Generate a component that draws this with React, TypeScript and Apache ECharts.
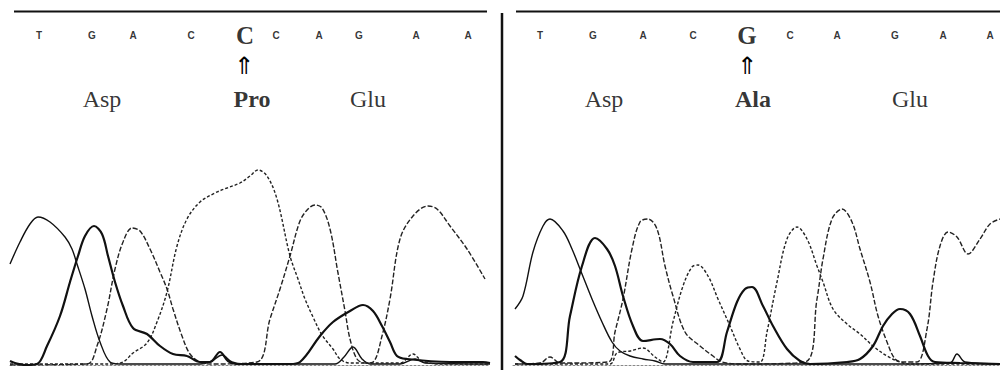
import React, { useEffect, useRef } from "react";
import * as echarts from "echarts";

// ---- Base calls, codons (positions along the scan axis) ----
const leftBases = ["T", "G", "A", "C", "C", "C", "A", "G", "A", "A"];
const leftBasePos = [39, 92, 133, 191, 245, 276, 319, 359, 416, 468];
const leftMutIndex = 4;
const rightBases = ["T", "G", "A", "C", "G", "C", "A", "G", "A", "A"];
const rightBasePos = [540, 593, 643, 693, 747, 790, 837, 895, 943, 990];
const rightMutIndex = 4;

const leftCodons = ["Asp", "Pro", "Glu"];
const leftCodonPos = [102, 252, 368];
const rightCodons = ["Asp", "Ala", "Glu"];
const rightCodonPos = [604, 753, 910];
const mutCodonIndex = 1;

const leftArrowPos = 244;
const rightArrowPos = 747;

// label rows (intensity units on the same scale)
const baseRowY = 330;
const arrowRowY = 299;
const codonRowY = 266;

// ---- Left chromatogram traces [scan position, intensity] ----
const leftT = [
  [10, 101], [20, 123], [30, 141], [38, 148], [50, 143], [65, 128], [72, 116], [77, 101],
  [85, 76], [92, 49], [100, 23], [110, 3], [120, 1], [200, 1], [212, 4], [222, 10], [232, 3],
  [245, 1], [335, 1], [344, 8], [353, 18], [362, 6], [370, 1], [400, 1], [415, 6], [425, 2], [490, 1],
];
const leftG = [
  [10, 4], [15, 2], [25, 0], [37, 1], [47, 19], [60, 49], [70, 83], [78, 109], [85, 129],
  [94, 139], [102, 131], [108, 109], [115, 83], [123, 59], [133, 37], [147, 31], [160, 19],
  [173, 11], [187, 9], [200, 3], [210, 3], [220, 13], [228, 4], [236, 1], [290, 1],
  [300, 3], [320, 29], [333, 43], [350, 54], [363, 60], [373, 54], [382, 39], [390, 23],
  [397, 9], [407, 6], [450, 3], [483, 3], [490, 2],
];
const leftA = [
  [10, 0], [87, 1], [97, 19], [107, 56], [115, 96], [123, 123], [132, 137], [140, 134],
  [150, 116], [160, 93], [167, 76], [173, 56], [182, 29], [190, 11], [200, 3], [210, 1],
  [257, 3], [270, 46], [280, 76], [290, 109], [300, 144], [308, 156], [315, 160], [322, 157],
  [330, 136], [338, 92], [345, 54], [350, 26], [357, 6], [365, 2], [373, 3], [382, 29],
  [390, 66], [400, 126], [413, 149], [428, 159], [437, 156], [450, 139], [467, 116],
  [485, 86],
];
const leftC = [
  [10, 1], [110, 1], [123, 3], [133, 12], [147, 22], [157, 43], [167, 73], [177, 119],
  [187, 146], [200, 163], [215, 172], [227, 177], [240, 182], [250, 189], [258, 195],
  [267, 189], [277, 166], [290, 109], [298, 86], [305, 66], [313, 48], [322, 30],
  [333, 16], [340, 6], [350, 2], [400, 2], [413, 11], [422, 4], [440, 1], [490, 1],
];

// ---- Right chromatogram traces ----
const rightT = [
  [515, 56], [523, 69], [533, 113], [543, 139], [550, 146], [563, 134], [572, 116],
  [582, 91], [592, 66], [602, 43], [612, 23], [620, 14], [630, 9], [643, 6], [655, 4],
  [665, 1], [900, 1], [950, 2], [957, 11], [965, 3], [1000, 1],
];
const rightG = [
  [515, 9], [520, 5], [527, 1], [560, 3], [570, 49], [582, 99], [595, 127], [607, 116],
  [615, 99], [623, 69], [633, 39], [643, 24], [660, 26], [670, 21], [680, 9], [693, 3],
  [717, 3], [727, 33], [737, 63], [745, 76], [752, 78], [763, 59], [773, 39], [787, 16],
  [800, 4], [810, 1], [847, 3], [860, 6], [873, 19], [883, 39], [892, 51], [900, 56],
  [910, 51], [920, 29], [928, 9], [935, 3], [960, 2], [1000, 1],
];
const rightA = [
  [515, 1], [540, 2], [550, 8], [560, 2], [608, 3], [615, 33], [623, 66], [632, 116],
  [640, 143], [648, 146], [657, 136], [665, 99], [673, 69], [685, 33], [700, 19], [713, 9],
  [722, 3], [740, 1], [805, 3], [817, 66], [823, 106], [832, 146], [842, 156], [852, 143],
  [860, 116], [870, 83], [878, 49], [887, 23], [895, 6], [903, 3], [917, 3], [927, 36],
  [933, 83], [940, 119], [948, 133], [957, 128], [968, 111], [980, 126], [990, 141],
  [1000, 146],
];
const rightC = [
  [515, 1], [610, 1], [617, 12], [630, 14], [643, 17], [655, 8], [663, 3], [673, 43],
  [683, 79], [692, 98], [698, 100], [708, 89], [718, 66], [730, 39], [740, 16], [748, 4],
  [760, 3], [767, 33], [777, 83], [787, 126], [797, 138], [807, 126], [817, 99], [823, 83],
  [833, 56], [847, 41], [860, 31], [873, 19], [887, 9], [900, 3], [910, 1], [1000, 1],
];

const INK = "#111111";

const channelStyles: Record<string, any> = {
  T: { color: INK, width: 1.4, type: "solid" },
  G: { color: INK, width: 2.2, type: "solid" },
  A: { color: "#222", width: 1.4, type: [5, 2] },
  C: { color: "#222", width: 1.4, type: [3, 2] },
};

function traceSeries(name: string, data: number[][], idx: number) {
  return {
    type: "line",
    name,
    xAxisIndex: idx,
    yAxisIndex: idx,
    data,
    smooth: 0.35,
    showSymbol: false,
    symbol: "none",
    lineStyle: channelStyles[name],
    silent: true,
  };
}

function labelSeries(
  idx: number,
  names: string[],
  pos: number[],
  y: number,
  normal: any,
  special: any,
  specialIndex: number
) {
  return {
    type: "scatter",
    xAxisIndex: idx,
    yAxisIndex: idx,
    symbolSize: 1,
    itemStyle: { color: "rgba(0,0,0,0)" },
    silent: true,
    data: names.map((n, i) => ({
      name: n,
      value: [pos[i], y],
      label: i === specialIndex ? special : normal,
    })),
    label: { ...normal },
  };
}

const common = { show: true, position: "inside", formatter: "{b}", color: "#000", textBorderWidth: 0 };
const baseFont = { ...common, fontFamily: "Liberation Sans", fontWeight: "bold", fontSize: 10 };
const bigFont = { ...common, fontFamily: "Liberation Serif", fontWeight: "bold", fontSize: 25 };
const codonFont = { ...common, fontFamily: "Liberation Serif", fontWeight: "normal", fontSize: 24 };
const codonBold = { ...codonFont, fontWeight: "bold" };

export default function App() {
  const ref = useRef<HTMLDivElement>(null);
  useEffect(() => {
    if (!ref.current) return;
    const chart = echarts.init(ref.current, undefined, { renderer: "svg" });
    const axisX = (min: number, max: number, gridIndex: number) => ({
      type: "value",
      gridIndex,
      min,
      max,
      axisLine: { show: true, onZero: false, lineStyle: { color: "#888", width: 1, type: [2, 2] } },
      axisTick: { show: false },
      axisLabel: { show: false },
      splitLine: { show: false },
    });
    const axisY = (gridIndex: number) => ({
      type: "value",
      gridIndex,
      min: 0,
      max: 353,
      show: false,
    });
    const frame = [
      { id: "topL", type: "line", shape: { x1: 14, y1: 11.5, x2: 487, y2: 11.5 }, style: { stroke: INK, lineWidth: 2 } },
      { id: "topR", type: "line", shape: { x1: 516, y1: 11.5, x2: 1000, y2: 11.5 }, style: { stroke: INK, lineWidth: 2 } },
      { id: "div", type: "line", shape: { x1: 502, y1: 13, x2: 502, y2: 370 }, style: { stroke: INK, lineWidth: 2.5 } },
    ];
    chart.setOption({
      animation: false,
      backgroundColor: "#ffffff",
      grid: [
        { left: 10, width: 480, top: 12, height: 353 },
        { left: 513, width: 487, top: 12, height: 353 },
      ],
      xAxis: [axisX(10, 490, 0), axisX(513, 1000, 1)],
      yAxis: [axisY(0), axisY(1)],
      series: [
        traceSeries("T", leftT, 0),
        traceSeries("C", leftC, 0),
        traceSeries("A", leftA, 0),
        traceSeries("G", leftG, 0),
        traceSeries("T", rightT, 1),
        traceSeries("C", rightC, 1),
        traceSeries("A", rightA, 1),
        traceSeries("G", rightG, 1),
        labelSeries(0, leftBases, leftBasePos, baseRowY, baseFont, bigFont, leftMutIndex),
        labelSeries(1, rightBases, rightBasePos, baseRowY, baseFont, bigFont, rightMutIndex),
        labelSeries(0, leftCodons, leftCodonPos, codonRowY, codonFont, codonBold, mutCodonIndex),
        labelSeries(1, rightCodons, rightCodonPos, codonRowY, codonFont, codonBold, mutCodonIndex),
      ],
      graphic: frame,
    });
    // mutation arrows, placed through the axes' scales
    const arrows = [
      [0, leftArrowPos],
      [1, rightArrowPos],
    ].map(([g, x], i) => {
      const p = chart.convertToPixel({ gridIndex: g }, [x, arrowRowY]) as number[];
      return {
        id: "arrow" + i,
        type: "text",
        x: Math.round(p[0]),
        y: Math.round(p[1]),
        style: {
          text: "⇑",
          fill: "#000",
          font: "24px 'DejaVu Sans'",
          align: "center",
          verticalAlign: "middle",
        },
      };
    });
    chart.setOption({ graphic: [...frame, ...arrows] });
    return () => chart.dispose();
  }, []);
  return (
    <div
      ref={ref}
      style={{ position: "absolute", left: 0, top: 0, width: 1000, height: 370, background: "#fff" }}
    />
  );
}
